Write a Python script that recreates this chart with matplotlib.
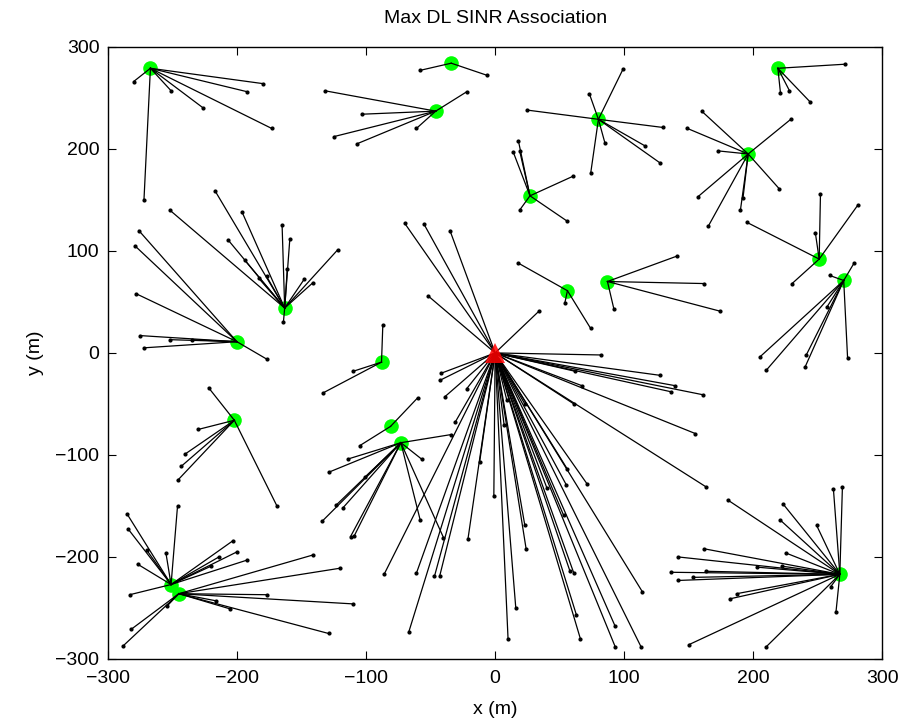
import matplotlib
matplotlib.use("Agg")
import matplotlib.pyplot as plt

plt.rcParams['font.family'] = ['Liberation Sans', 'DejaVu Sans']

# Macro base station
macro_x, macro_y = 0, 0

# Pico base stations (cell ids 1..20)
pico_x = [-267, -34, -46, 80, 27, 219, 196, 251, 270, -163,
          56, 87, -200, -88, -202, -81, -73, -251, -245, 267]
pico_y = [279, 284, 237, 229, 154, 279, 195, 92, 71, 44,
          61, 70, 11, -9, -66, -72, -88, -227, -236, -217]

# Users: position and serving cell (0 = macro, k = pico k)
user_x = []
user_y = []
user_cell = []

def add(cell, xs, ys):
    user_x.extend(xs)
    user_y.extend(ys)
    user_cell.extend([cell] * len(xs))

add(0, [-70, -55, -35, -52, 34, 82, 128, 139, 136, 161, 155, 163, 62, 67, 61, 114,
        -42, -43, -39, -22, -31, -12, -86, -61, -47, -43, -67, -21, -1, 23, 24, 16,
        10, 56, 55, 71, 40, 53, 58, 61, 63, 66, 93, 93, 113, 9, 7, 23],
       [127, 126, 120, 56, 41, -2, -22, -32, -38, -41, -79, -131, -18, -32, -50, -234,
        -20, -27, -43, -35, -68, -107, -217, -216, -219, -219, -274, -182, -140, -169, -192, -250,
        -280, -114, -129, -128, -132, -159, -214, -216, -257, -280, -268, -288, -288, -46, -71, -50])
add(1, [-280, -251, -226, -192, -180, -173, -272], [266, 257, 240, 256, 264, 220, 150])
add(2, [-58, -6], [277, 272])
add(3, [-132, -103, -125, -107, -61, -22], [257, 234, 212, 205, 220, 256])
add(4, [99, 73, 25, 130, 85, 116, 128, 74], [278, 254, 238, 221, 206, 203, 186, 176])
add(5, [18, 14, 19, 60, 19, 56], [208, 197, 198, 173, 140, 129])
add(6, [271, 221, 228, 244], [283, 255, 257, 246])
add(7, [160, 149, 173, 229, 220, 157, 192, 190, 165], [237, 220, 198, 229, 161, 153, 152, 140, 124])
add(8, [252, 248, 281, 195, 230], [156, 118, 145, 128, 68])
add(9, [278, 259, 273, 205, 210, 241, 240, 257], [88, 76, -5, -4, -17, -2, -14, 45])
add(10, [-252, -217, -196, -207, -165, -159, -194, -183, -177, -161, -164, -148, -141, -122],
        [140, 159, 138, 111, 125, 112, 91, 73, 75, 82, 30, 72, 69, 101])
add(11, [18, 54, 74], [88, 49, 24])
add(12, [141, 92, 162, 174], [95, 43, 68, 41])
add(13, [-278, -275, -272, -252, -235, -177, -276, -279], [58, 17, 5, 13, 13, -6, 120, 105])
add(14, [-87, -110, -133], [27, -18, -39])
add(15, [-222, -230, -240, -243, -246, -169], [-34, -75, -99, -111, -125, -150])
add(16, [-60, -105], [-44, -91])
add(17, [-34, -57, -114, -129, -101, -123, -118, -134, -112, -109, -58, -40],
        [-80, -104, -104, -117, -122, -149, -152, -165, -180, -179, -164, -181])
add(18, [-285, -284, -270, -255, -246, -277, -283, -203, -200, -192, -214, -220],
        [-158, -173, -193, -196, -150, -207, -237, -184, -195, -203, -200, -209])
add(19, [-282, -288, -254, -177, -216, -205, -141, -120, -110, -129],
        [-271, -287, -248, -237, -243, -251, -198, -211, -246, -275])
add(20, [180, 223, 262, 269, 221, 249, 162, 225, 203, 222, 163, 153, 182, 187, 260, 264,
         150, 210, 142, 136, 142],
        [-144, -148, -133, -131, -164, -169, -192, -196, -210, -209, -214, -220, -241, -236, -229, -254,
         -286, -288, -200, -215, -223])

fig = plt.figure(figsize=(9.06, 7.21), dpi=100)
ax = fig.add_axes([0.119, 0.086, 0.855, 0.849])

# base stations
ax.plot(pico_x, pico_y, 'o', color=(0, 1, 0), markersize=10.5, markeredgewidth=0, zorder=1)

bs_x = [macro_x] + pico_x
bs_y = [macro_y] + pico_y
for ux, uy, c in zip(user_x, user_y, user_cell):
    ax.plot([ux, bs_x[c]], [uy, bs_y[c]], '-', color='black', linewidth=0.9, zorder=2)
ax.plot([macro_x], [macro_y], '^', color='red', markersize=15, markeredgewidth=0,
        alpha=0.85, zorder=2.5)
ax.plot(user_x, user_y, '.', color='black', markersize=4, zorder=3)

ax.set_xlim(-300, 300)
ax.set_ylim(-300, 300)
ticks = [-300, -200, -100, 0, 100, 200, 300]
ax.set_xticks(ticks)
ax.set_yticks(ticks)
ax.tick_params(direction='in', labelsize=14, length=6, top=True, right=True,
               labeltop=False, labelright=False)
ax.tick_params(axis='x', pad=8)
ax.tick_params(axis='y', pad=6)
ax.set_xlabel('x (m)', fontsize=14, labelpad=10)
ax.set_ylabel('y (m)', fontsize=14, labelpad=8)
ax.set_title('Max DL SINR Association', fontsize=14, pad=17)
for s in ax.spines.values():
    s.set_linewidth(1.0)

fig.savefig('out.png', dpi=100)
